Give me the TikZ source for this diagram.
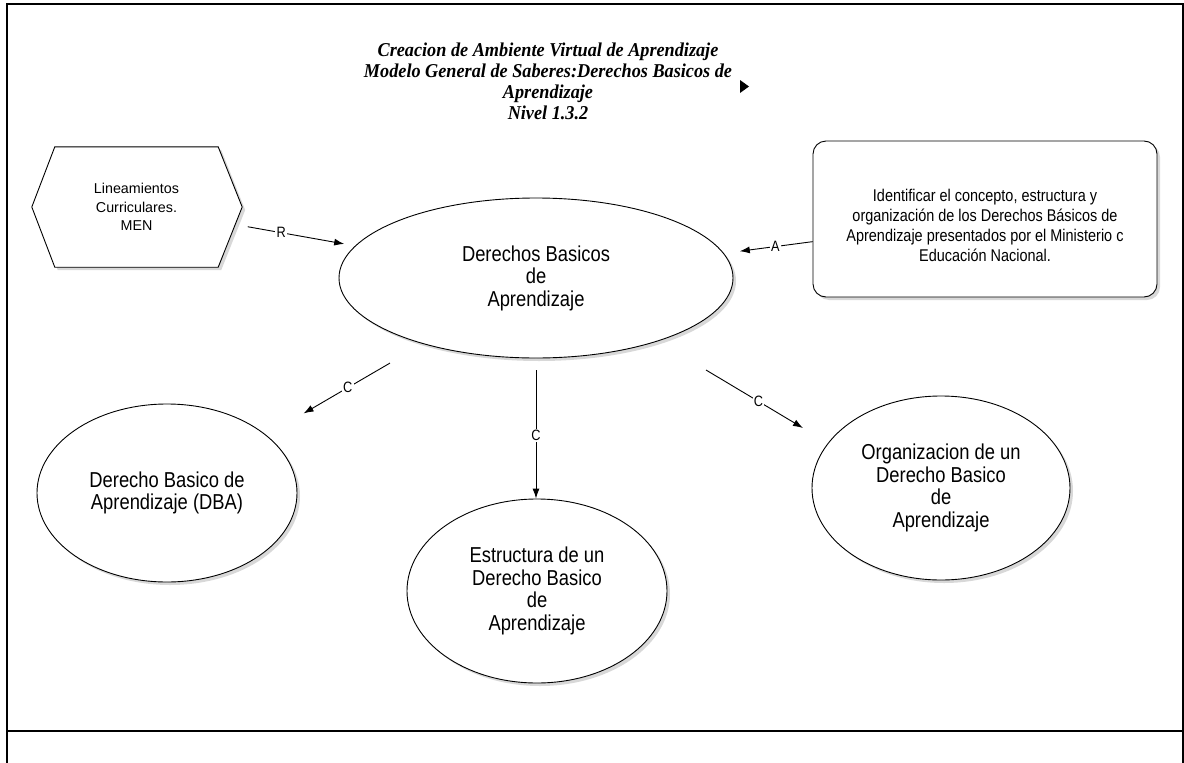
\documentclass[tikz,border=0pt]{standalone}
\usepackage{fontspec}
\setmainfont{Liberation Sans}
\newfontfamily\tallsans[FakeStretch=0.85]{Liberation Sans}
\newfontfamily\titlefont[FakeStretch=0.93]{Liberation Serif}
\usetikzlibrary{shapes.geometric,arrows.meta,shadows,backgrounds}

\begin{document}
\begin{tikzpicture}[x=1pt,y=-1pt,
  softshadow/.style={drop shadow={shadow xshift=3pt,shadow yshift=-3pt,fill=black!30}},
  outline/.style={draw=black,line width=0.9pt,fill=white,softshadow},
  concept/.style={ellipse,outline,inner sep=0pt,align=center,
    font=\tallsans\fontsize{21.6}{22.5}\selectfont},
  smalltext/.style={inner sep=0pt,align=center,font=\tallsans\fontsize{17}{20}\selectfont},
  conn/.style={line width=0.9pt,-{Latex[length=10pt,width=7pt]}},
  lab/.style={fill=white,inner sep=1.2pt,font=\tallsans\fontsize{15}{15}\selectfont},
  frame/.style={line width=2.3pt,line cap=rect}
]
\useasboundingbox (0,0) rectangle (1184,763);

% outer frame and lower divider
\draw[frame] (7,763) -- (7,4) -- (1183,4) -- (1183,763);
\draw[frame] (7,731) -- (1183,731);

% heading
\node[align=center,font=\titlefont\bfseries\itshape\fontsize{19.6}{21}\selectfont]
  (title) at (548,81)
  {Creacion de Ambiente Virtual de Aprendizaje\\
   Modelo General de Saberes:Derechos Basicos de\\
   Aprendizaje\\
   Nivel 1.3.2};
\fill (740,80) -- (749,86.5) -- (740,93) -- cycle;

% reference source (hexagon)
\node[inner sep=0pt,align=center,font=\fontsize{14.3}{18.5}\selectfont,
  minimum width=163,minimum height=120]
  (lin) at (136.5,207) {Lineamientos\\Curriculares.\\MEN};
\begin{scope}[on background layer]
  \draw[outline] (lin.north west) -- (lin.north east) -- ([xshift=24pt]lin.east)
    -- (lin.south east) -- (lin.south west) -- ([xshift=-23pt]lin.west) -- cycle;
\end{scope}

% purpose box
\node[draw=black,line width=0.9pt,fill=white,softshadow,rounded corners=13pt,
  minimum width=344,minimum height=156,inner sep=0pt] (goal) at (985,219) {};
\node[smalltext] (goaltext) at (985,225.5)
  {Identificar el concepto, estructura y\\
   organización de los Derechos Básicos de\\
   Aprendizaje presentados por el Ministerio c\\
   Educación Nacional.};

% concepts
\node[concept,minimum width=394,minimum height=160] (main) at (536,278)
  {Derechos Basicos\\de\\Aprendizaje};
\node[concept,minimum width=260,minimum height=178] (dba) at (167,493)
  {Derecho Basico de\\Aprendizaje (DBA)};
\node[concept,minimum width=260,minimum height=184] (estr) at (537,591)
  {Estructura de un\\Derecho Basico\\de\\Aprendizaje};
\node[concept,minimum width=258,minimum height=184] (org) at (941,488)
  {Organizacion de un\\Derecho Basico\\de\\Aprendizaje};

% connectors
\draw[conn,shorten <=30pt,shorten >=11pt] (lin) -- node[lab,pos=.46]{R} (main);
\draw[conn,shorten >=16pt] (goal) -- node[lab,pos=.42]{A} (main);
\draw[conn,shorten <=38pt,shorten >=43pt] (main) -- node[lab,pos=.48]{C} (dba);
\draw[conn,shorten <=12pt] (main.south) -- node[lab,pos=.55]{C} (main.south |- estr.north);
\coordinate (orgS) at (706,370);
\coordinate (orgE) at (803,428);
\draw[conn] (orgS) -- node[lab,pos=.54]{C} (orgE);
\end{tikzpicture}
\end{document}
